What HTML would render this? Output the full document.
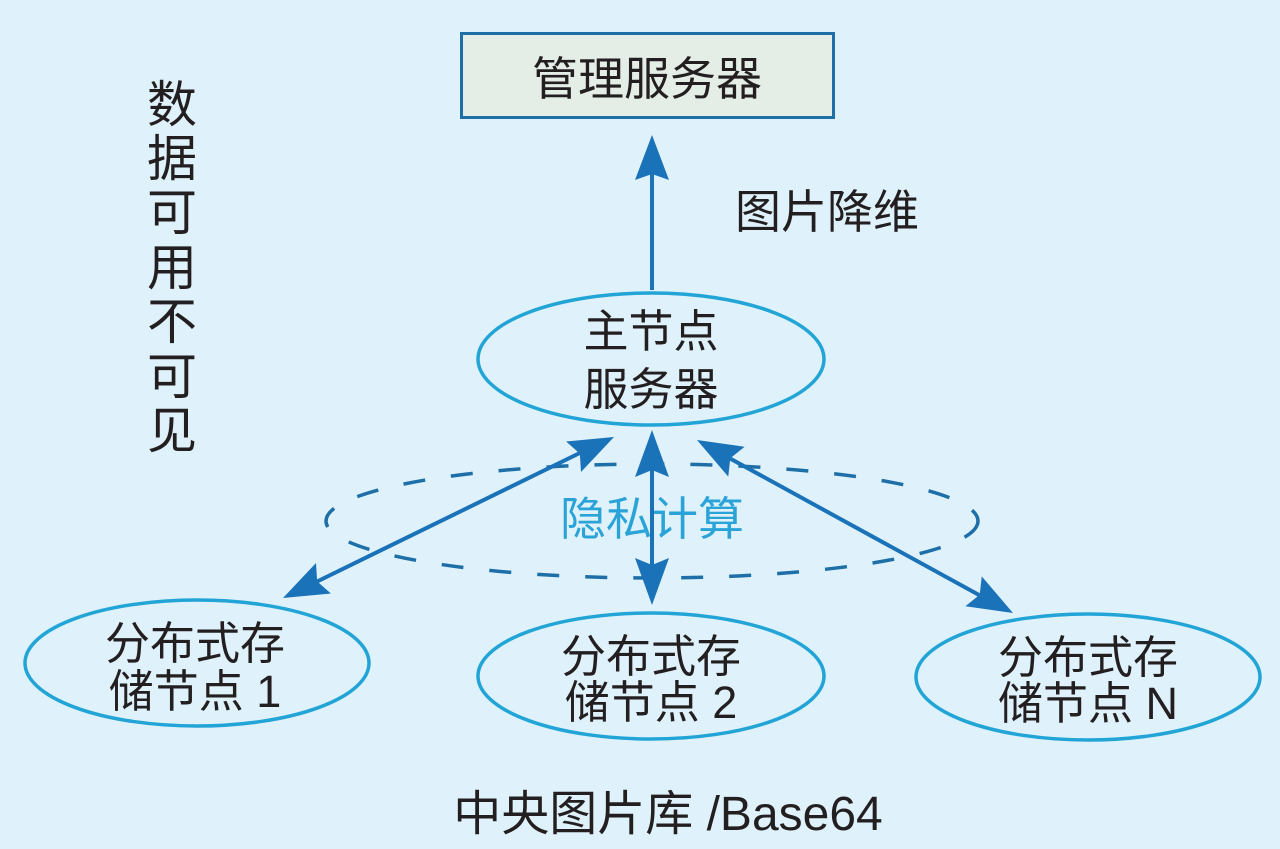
<!DOCTYPE html>
<html><head><meta charset="utf-8"><style>
html,body{margin:0;padding:0;background:#dff2fb;}
svg{display:block;}
text{font-family:"Liberation Sans","Noto Sans CJK SC",sans-serif;fill:#231f20;}
</style></head><body>
<svg width="1280" height="849" viewBox="0 0 1280 849" xmlns="http://www.w3.org/2000/svg">
<rect width="1280" height="849" fill="#dff2fb"/>
<!-- management box -->
<rect x="461.5" y="33.5" width="372" height="84" fill="#e4eee7" stroke="#1d6fa6" stroke-width="3"/>
<text x="647" y="95" font-size="46" text-anchor="middle">管理服务器</text>
<!-- vertical arrow up -->
<line x1="652" y1="290" x2="652" y2="170" stroke="#1a72b8" stroke-width="4"/>
<polygon points="652,135 635,180 652,174 669,180" fill="#1a72b8"/>
<text x="735" y="228" font-size="46">图片降维</text>
<!-- left vertical text -->
<g font-size="50" text-anchor="middle">
<text x="172" y="122">数</text>
<text x="172" y="176">据</text>
<text x="172" y="230">可</text>
<text x="172" y="285">用</text>
<text x="172" y="339">不</text>
<text x="172" y="394">可</text>
<text x="172" y="448">见</text>
</g>
<!-- dashed ellipse -->
<ellipse cx="652" cy="521" rx="326" ry="57" fill="none" stroke="#1e6fa8" stroke-width="3.5" stroke-dasharray="22 26"/>
<!-- main node -->
<ellipse cx="651" cy="359" rx="173" ry="66" fill="none" stroke="#22a5d6" stroke-width="3.5"/>
<text x="651" y="347" font-size="45" text-anchor="middle">主节点</text>
<text x="651" y="405" font-size="45" text-anchor="middle">服务器</text>
<!-- bottom nodes -->
<ellipse cx="197" cy="663" rx="172" ry="63" fill="none" stroke="#22a5d6" stroke-width="3.5"/>
<text x="195" y="659" font-size="45" text-anchor="middle">分布式存</text>
<text x="195" y="707" font-size="45" text-anchor="middle">储节点 1</text>
<ellipse cx="651" cy="676" rx="173" ry="63" fill="none" stroke="#22a5d6" stroke-width="3.5"/>
<text x="651" y="672" font-size="45" text-anchor="middle">分布式存</text>
<text x="651" y="718" font-size="45" text-anchor="middle">储节点 2</text>
<ellipse cx="1088" cy="677" rx="172" ry="63" fill="none" stroke="#22a5d6" stroke-width="3.5"/>
<text x="1088" y="673" font-size="45" text-anchor="middle">分布式存</text>
<text x="1088" y="719" font-size="45" text-anchor="middle">储节点 N</text>
<!-- privacy label -->
<text x="652" y="535" font-size="46" text-anchor="middle" style="fill:#2aa3d8">隐私计算</text>
<!-- vertical double arrow -->
<line x1="652" y1="460" x2="652" y2="580" stroke="#1a72b8" stroke-width="4"/>
<polygon points="652,430 635,477 652,470 669,477" fill="#1a72b8"/>
<polygon points="652,605 635,558 652,565 669,558" fill="#1a72b8"/>
<!-- left diagonal -->
<line x1="310" y1="585" x2="590" y2="448" stroke="#1a72b8" stroke-width="4"/>
<g transform="translate(614,437) rotate(154)"><polygon points="0,0 -45,-17 -38,0 -45,17" fill="#1a72b8" transform="rotate(180)"/></g>
<g transform="translate(283,598) rotate(154)"><polygon points="0,0 45,-17 38,0 45,17" fill="#1a72b8" transform="rotate(180)"/></g>
<!-- right diagonal -->
<line x1="720" y1="453" x2="990" y2="601" stroke="#1a72b8" stroke-width="4"/>
<g transform="translate(697,440) rotate(28.8)"><polygon points="0,0 45,-17 38,0 45,17" fill="#1a72b8"/></g>
<g transform="translate(1013,613) rotate(28.8)"><polygon points="0,0 -45,-17 -38,0 -45,17" fill="#1a72b8"/></g>
<!-- bottom caption -->
<text x="668" y="830" font-size="48" text-anchor="middle">中央图片库 /Base64</text>
</svg>
</body></html>
